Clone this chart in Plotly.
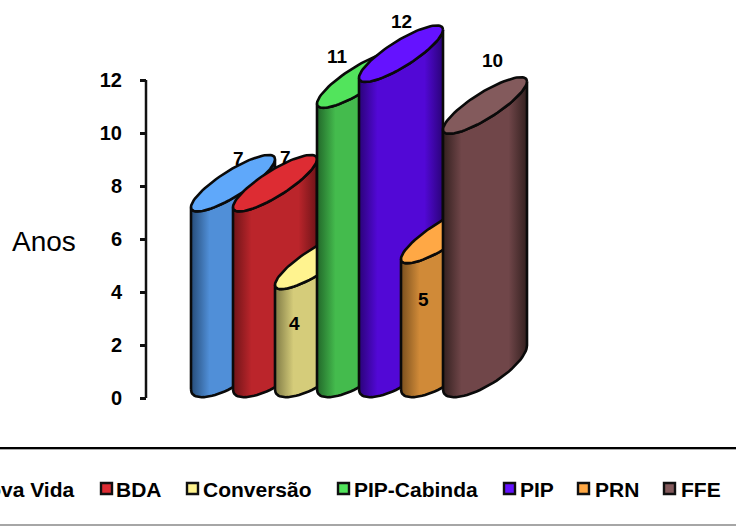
import numpy as np
import plotly.graph_objects as go

# ---- data ----
categories = ["Nova Vida", "BDA", "Conversão", "PIP-Cabinda", "PIP", "PRN", "FFE"]
values = [7, 7, 4, 11, 12, 5, 10]
tick_values = [0, 2, 4, 6, 8, 10, 12]
axis_title = "Anos"

# ---- styles ----
cap_colors = ["#5FA8FA", "#DD2C33", "#FFF38F", "#52E45C", "#6512FF", "#FFA845", "#835A5C"]
mid_colors = ["#508FD8", "#BB252B", "#D5CC7A", "#44BB4D", "#5208D6", "#D08A38", "#704649"]
dark_colors = ["#264C78", "#6E1418", "#7F7A45", "#22682A", "#2A0378", "#7A501E", "#33201F"]
label_dx = [47, 52, 19, 20, 42, 22, 49]
label_dy = [54, 55, -31, 50, 59, -34, 73]
legend_square_px = [-38, 101, 187, 338, 504, 578, 664]
legend_text_px = [-27, 116, 203, 354, 520, 595, 681]

W, H = 736, 526
PX_X = 42.0      # pixels per category
PX_Y = 26.5      # pixels per value unit
X0_PX = 191.0    # pixel of first category
Y0_PX = 398.0    # pixel of value 0
HALF_W = 1.0     # cylinder half width, in categories
TOP_SLANT = 24.0 / PX_Y
TOP_MINOR = 15.0 / PX_Y
BASE_SLANT = 22.0 / PX_Y
BASE_MINOR = 20.0 / PX_Y
BASE_LIFT = 8.5 / PX_Y
HEIGHT_K = 25.9 / 26.5
TOP_LIFT = 9.5 / PX_Y
OUTLINE = 2.6

xr = [(-X0_PX) / PX_X, (W - X0_PX) / PX_X]
yr = [(Y0_PX - H) / PX_Y, Y0_PX / PX_Y]
AXIS_X = (146.0 - X0_PX) / PX_X


def px(x):
    return x / W


def py(y):
    return 1 - y / H


fig = go.Figure()
tt = np.linspace(-np.pi, 0, 40)
ta = np.linspace(0, 2 * np.pi, 80)

for i, v in enumerate(values):
    cx = i + HALF_W
    top_left = v * HEIGHT_K + TOP_LIFT
    top_c = top_left + TOP_SLANT
    base_c = BASE_LIFT + BASE_SLANT

    base_x = cx + HALF_W * np.cos(tt)
    base_y = base_c + BASE_SLANT * np.cos(tt) + BASE_MINOR * np.sin(tt)
    top_x = cx + HALF_W * np.cos(tt[::-1])
    top_y = top_c + TOP_SLANT * np.cos(tt[::-1]) + TOP_MINOR * np.sin(tt[::-1])
    bx = np.concatenate([base_x, top_x, base_x[:1]])
    by = np.concatenate([base_y, top_y, base_y[:1]])

    fig.add_trace(go.Scatter(
        x=bx, y=by, mode="lines", fill="toself",
        fillgradient=dict(
            type="horizontal",
            colorscale=[[0, dark_colors[i]], [0.22, mid_colors[i]],
                        [0.78, mid_colors[i]], [1, dark_colors[i]]],
        ),
        line=dict(color="#0A0A0A", width=OUTLINE), hoverinfo="skip", showlegend=False,
    ))
    fig.add_trace(go.Scatter(
        x=cx + HALF_W * np.cos(ta),
        y=top_c + TOP_SLANT * np.cos(ta) + TOP_MINOR * np.sin(ta),
        mode="lines", fill="toself", fillcolor=cap_colors[i],
        line=dict(color="#0A0A0A", width=OUTLINE), hoverinfo="skip", showlegend=False,
    ))

# value axis line
fig.add_trace(go.Scatter(
    x=[AXIS_X, AXIS_X], y=[tick_values[0], tick_values[-1]], mode="lines",
    line=dict(color="#111111", width=2.5), hoverinfo="skip", showlegend=False,
))

annotations = []
for i, v in enumerate(values):
    annotations.append(dict(
        x=i, y=v, xref="x", yref="y", text=f"<b>{v}</b>", showarrow=False,
        xanchor="center", yanchor="middle", xshift=label_dx[i], yshift=label_dy[i],
        font=dict(family="Liberation Sans", size=19, color="#000000"),
    ))

annotations.append(dict(
    x=px(12), y=py(241), xref="paper", yref="paper", text=axis_title, showarrow=False,
    xanchor="left", yanchor="middle", xshift=-2,
    font=dict(family="Liberation Sans", size=28, color="#000000"),
))

shapes = [
    dict(type="line", xref="paper", yref="paper", x0=0, x1=1, y0=py(449.5), y1=py(449.5),
         line=dict(color="#AAAAAA", width=1)),
    dict(type="line", xref="paper", yref="paper", x0=0, x1=1, y0=py(448), y1=py(448),
         line=dict(color="#000000", width=2)),
    dict(type="line", xref="paper", yref="paper", x0=0, x1=1, y0=py(525), y1=py(525),
         line=dict(color="#888888", width=1.5)),
]
for i, name in enumerate(categories):
    sx = legend_square_px[i]
    shapes.append(dict(type="rect", xref="paper", yref="paper",
                       x0=px(sx), x1=px(sx + 11), y0=py(483), y1=py(494),
                       fillcolor=cap_colors[i], line=dict(color="#111111", width=2.4)))
    annotations.append(dict(
        x=px(legend_text_px[i]), y=py(489), xref="paper", yref="paper",
        text=f"<b>{name}</b>", showarrow=False, xanchor="left", yanchor="middle",
        xshift=-2, font=dict(family="Liberation Sans", size=21, color="#000000"),
    ))

fig.update_layout(
    width=W, height=H, margin=dict(l=0, r=0, t=0, b=0),
    paper_bgcolor="#FFFFFF", plot_bgcolor="#FFFFFF",
    showlegend=False, hovermode=False, dragmode=False,
    xaxis=dict(visible=False, range=xr, fixedrange=True),
    yaxis=dict(
        range=yr, fixedrange=True, anchor="free", position=px(146), side="left",
        tickmode="array", tickvals=tick_values, ticktext=[f"<b>{t}</b>" for t in tick_values],
        ticks="outside", ticklen=6, tickwidth=2.5, tickcolor="#111111",
        ticklabelstandoff=14, showgrid=False, zeroline=False, showline=False,
        tickfont=dict(family="Liberation Sans", size=20, color="#000000"),
    ),
    annotations=annotations, shapes=shapes,
)

fig.write_html("out.html", config={"displayModeBar": False},
               post_script="document.body.style.margin='0';document.body.style.overflow='hidden';")
